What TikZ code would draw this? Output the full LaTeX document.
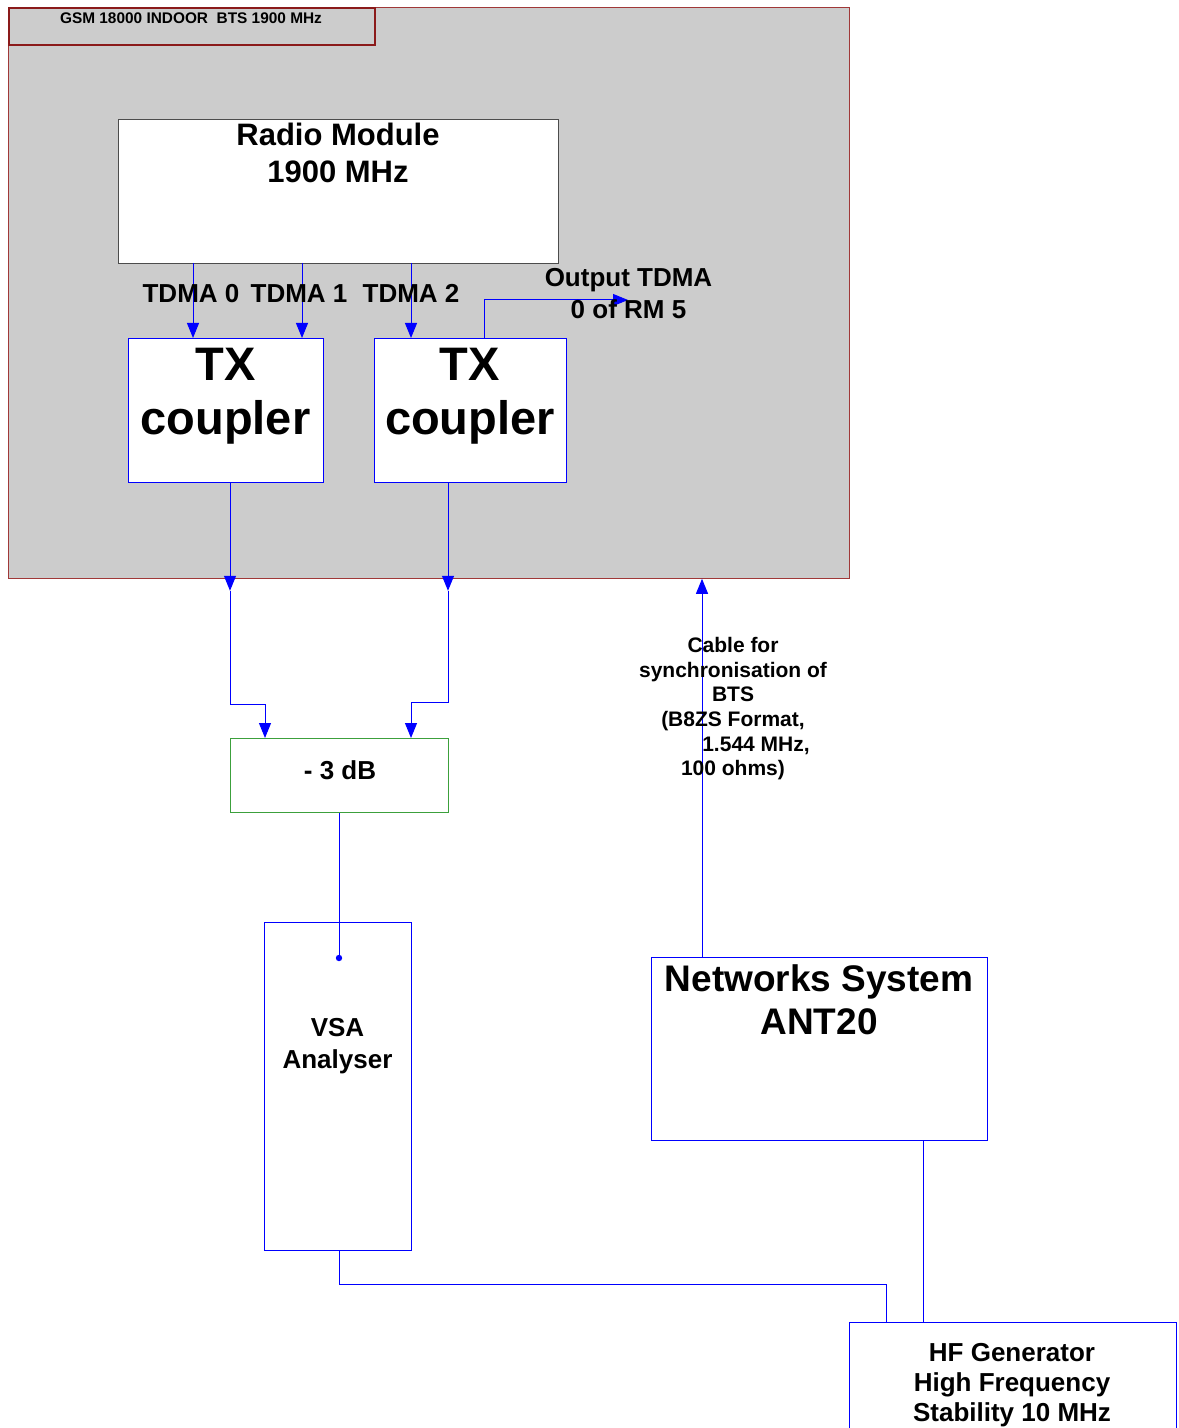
\documentclass[tikz,border=0pt]{standalone}
\usepackage{fontspec}
\setmainfont{Liberation Sans}
\usetikzlibrary{positioning,calc,arrows.meta}

\definecolor{btsgray}{HTML}{CCCCCC}
\definecolor{btsred}{HTML}{A03838}
\definecolor{hdrred}{HTML}{8B1A1A}
\definecolor{attgreen}{HTML}{3CA03C}

\begin{document}
\begin{tikzpicture}[x=0.5pt, y=-0.5pt, font=\bfseries,
  box/.style={draw=blue, fill=white, anchor=north west, inner sep=0pt, line width=0.5pt},
  link/.style={blue, line width=0.5pt},
  tip/.style={-{Triangle[length=7.5pt,width=6pt]}},
  txt/.style={align=center, inner sep=0pt, anchor=north},
  fhead/.style={font=\bfseries\fontsize{7.7}{9}\selectfont},
  fsmall/.style={font=\bfseries\fontsize{10.5}{12.3}\selectfont},
  fmid/.style={font=\bfseries\fontsize{13}{16}\selectfont},
  fhf/.style={font=\bfseries\fontsize{13}{15}\selectfont},
  fbig/.style={font=\bfseries\fontsize{15.5}{18.5}\selectfont},
  fns/.style={font=\bfseries\fontsize{18.5}{21.5}\selectfont},
  ftx/.style={font=\bfseries\fontsize{23.5}{27}\selectfont}]
  \useasboundingbox (0,0) rectangle (1178,1428);

  % BTS cabinet
  \node[draw=btsred, fill=btsgray, anchor=north west, inner sep=0pt,
        minimum width=420.5pt, minimum height=285.5pt] (bts) at (8,7) {};
  \node[draw=hdrred, line width=1pt, anchor=north west, inner sep=0pt,
        minimum width=183pt, minimum height=18.5pt] (hdr) at (8,7) {};
  \node[txt, fhead] (hdr-txt) at (191,12) {GSM 18000 INDOOR\ \ BTS 1900 MHz};

  \node[box, draw=gray!60!black, minimum width=220pt, minimum height=72pt] (rm) at (118,119) {};
  \node[txt, fbig] (rm-txt) at (338,123) {Radio Module\\1900 MHz};

  \node[box, minimum width=97.5pt, minimum height=72pt] (tx1) at (128,338) {};
  \node[box, minimum width=96pt, minimum height=72pt] (tx2) at (374,338) {};
  \node[txt, ftx] (tx1-txt) at (225.5,348) {TX\\coupler};
  \node[txt, ftx] (tx2-txt) at (470,348) {TX\\coupler};

  % test set-up outside the cabinet
  \node[box, draw=attgreen, minimum width=109pt, minimum height=37pt] (att) at (230,738) {};
  \node[txt, fmid] (att-txt) at (340,760) {- 3 dB};
  \node[box, minimum width=73.5pt, minimum height=164pt] (vsa) at (264,922) {};
  \node[txt, fmid] (vsa-txt) at (337.5,1018) {VSA\\Analyser};
  \node[box, minimum width=168pt, minimum height=91.5pt] (ns) at (651,957) {};
  \node[txt, fns] (ns-txt) at (819,964) {Networks System\\ANT20};
  \node[box, minimum width=163.5pt, minimum height=70pt] (hf) at (849,1322) {};
  \node[txt, fhf] (hf-txt) at (1012,1343) {HF Generator\\High Frequency\\Stability 10 MHz};

  % taps on the boxes
  \coordinate (tdma0) at (193,263);
  \coordinate (tdma1) at (302,263);
  \coordinate (tdma2) at (411,263);
  \coordinate (out0) at (484,338);
  \coordinate (rm5) at (628,300);
  \coordinate (tx1-out) at (230,482);
  \coordinate (tx2-out) at (448,482);
  \coordinate (att-in1) at (265,738);
  \coordinate (att-in2) at (411,738);
  \coordinate (vsa-in) at (339,958);
  \coordinate (vsa-out) at (339,1250);
  \coordinate (hf-in1) at (886,1322);
  \coordinate (ns-out) at (923,1140);
  \coordinate (ns-sync) at (702,957);

  \draw[link, tip] (tdma0) -- (tdma0 |- tx1.north);
  \draw[link, tip] (tdma1) -- (tdma1 |- tx1.north);
  \draw[link, tip] (tdma2) -- (tdma2 |- tx2.north);
  \draw[link, tip] (out0) |- (rm5);
  \node[txt, fmid] (tdma0-lbl) at (191,284) {TDMA 0};
  \node[txt, fmid] (tdma1-lbl) at (299,284) {TDMA 1};
  \node[txt, fmid] (tdma2-lbl) at (411,284) {TDMA 2};
  \node[txt, fmid] (rm5-lbl) at (628.5,268) {Output TDMA\\0 of RM 5};

  % outputs of the couplers into the -3 dB combiner
  \draw[link, tip] (tx1-out) -- ([yshift=-6pt]tx1-out |- bts.south);
  \draw[link, tip] ([yshift=-6pt]tx1-out |- bts.south) -- (230,704) -| (att-in1);
  \draw[link, tip] (tx2-out) -- ([yshift=-6pt]tx2-out |- bts.south);
  \draw[link, tip] ([yshift=-6pt]tx2-out |- bts.south) -- (448,702) -| (att-in2);

  \draw[link] (vsa-in |- att.south) -- (vsa-in);
  \fill[blue] (vsa-in) circle (1.6pt);
  \draw[link] (vsa-out) -- ++(0,34) -| (hf-in1);
  \draw[link] (ns-out) -- (ns-out |- hf.north);

  % synchronisation cable
  \draw[link, tip] (ns-sync) -- (ns-sync |- bts.south);
  \node[txt, fsmall] (sync-lbl) at (733,637)
    {Cable for\\synchronisation of\\BTS\\(B8ZS Format,\\\hspace*{23pt}1.544 MHz,\\100 ohms)};
\end{tikzpicture}
\end{document}
